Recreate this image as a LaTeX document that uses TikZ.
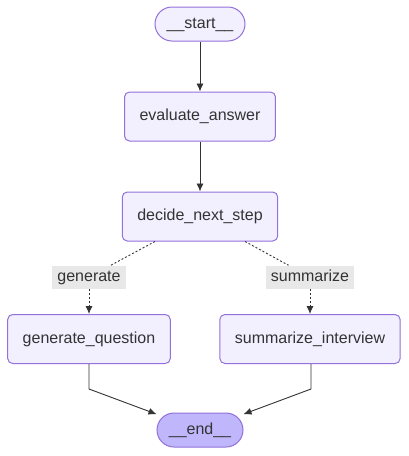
\documentclass[tikz,border=0pt]{standalone}
\usepackage{fontspec}
\setmainfont{Liberation Sans}
\usetikzlibrary{positioning}
\usetikzlibrary{arrows.meta}
\definecolor{nodefill}{HTML}{F2F0FF}
\definecolor{nodeline}{HTML}{9370DB}
\definecolor{endfill}{HTML}{BFB6FC}
\definecolor{inkgray}{HTML}{333333}
\definecolor{labelfill}{HTML}{E8E8E8}
\begin{document}
\begin{tikzpicture}[x=1pt, y=-1pt, node distance={50pt}, font=\fontsize{16}{19}\selectfont,
    main/.style = {draw=nodeline, fill=nodefill, line width=1pt, rounded corners=5pt, text=inkgray, inner xsep=15pt, minimum height=49pt, text height=12pt, text depth=3.5pt},
    pill/.style = {draw=nodeline, fill=nodefill, line width=1pt, rounded corners=17pt, text=inkgray, minimum width=90pt, minimum height=34pt, text height=12pt, text depth=3.5pt},
    cond/.style = {fill=labelfill, text=inkgray, inner xsep=5pt, inner ysep=0pt, minimum height=23pt, text height=12pt, text depth=3.5pt},
    edge/.style = {draw=inkgray, line width=0.9pt, -{Latex[length=8pt,width=7pt]}},
    dotedge/.style = {draw=inkgray, line width=0.9pt, dash pattern=on 2pt off 2pt}]
    \useasboundingbox (0,0) rectangle (409,456);
    \node[pill] (start) at (200,24) {\_\_start\_\_};
    \node[main] (eval) [below=of start] {evaluate\_answer};
    \node[main] (decide) [below=of eval] {decide\_next\_step};
    \node[cond] (lgen) at (89,277) {generate};
    \node[cond] (lsum) at (310,277) {summarize};
    \node[main] (genq) at (89,339) {generate\_question};
    \node[main] (sumi) at (310,339) {summarize\_interview};
    \node[pill, fill=endfill, minimum width=86pt] (end) at (200,430) {\_\_end\_\_};
    % straight chain
    \draw[edge] (start) -- (eval);
    \draw[edge] (eval) -- (decide);
    % conditional branches
    \draw[dotedge] ([xshift=-45pt]decide.south) -- (lgen);
    \draw[dotedge] ([xshift=45pt]decide.south) -- (lsum);
    \draw[dotedge, -{Latex[length=8pt,width=7pt]}] (lgen) -- (genq);
    \draw[dotedge, -{Latex[length=8pt,width=7pt]}] (lsum) -- (sumi);
    % into end
    \draw[edge] (genq.south) -- ++(0,25) -- (end.160);
    \draw[edge] ([xshift=1pt]sumi.south) -- ++(0,25) -- (end.20);
\end{tikzpicture}
\end{document}
